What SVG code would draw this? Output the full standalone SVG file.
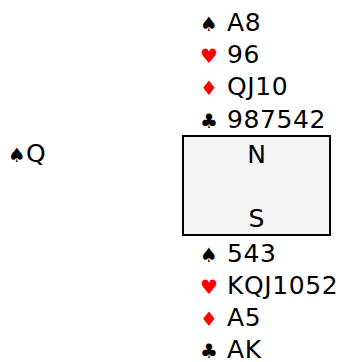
<svg xmlns="http://www.w3.org/2000/svg" width="346" height="362" viewBox="0 0 346 362">
<style>
text{font-family:"DejaVu Sans",Verdana,sans-serif;font-size:25px;fill:#000}
.c{letter-spacing:0.6px}
.s{font-size:20px;letter-spacing:0}
.r{fill:#f00}
</style>
<rect width="346" height="362" fill="#fff"/>
<g id="north">
<text x="200" y="31"><tspan class="s">♠</tspan></text><text class="c" x="227" y="31">A8</text>
<text x="200" y="63"><tspan class="s r">♥</tspan></text><text class="c" x="227" y="63">96</text>
<text x="200" y="95"><tspan class="s r">♦</tspan></text><text class="c" x="227" y="95">QJ10</text>
<text x="200" y="128"><tspan class="s">♣</tspan></text><text class="c" x="227" y="128">987542</text>
</g>
<g id="west">
<text x="8" y="162"><tspan class="s">♠</tspan>Q</text>
</g>
<g id="table">
<rect x="183" y="136" width="147" height="99" fill="#f5f5f5" stroke="#000" stroke-width="2"/>
<text x="256.5" y="163" text-anchor="middle">N</text>
<text x="256.5" y="227" text-anchor="middle">S</text>
</g>
<g id="south">
<text x="200" y="262"><tspan class="s">♠</tspan></text><text class="c" x="227" y="262">543</text>
<text x="200" y="294"><tspan class="s r">♥</tspan></text><text class="c" x="227" y="294">KQJ1052</text>
<text x="200" y="326"><tspan class="s r">♦</tspan></text><text class="c" x="227" y="326">A5</text>
<text x="200" y="358"><tspan class="s">♣</tspan></text><text class="c" x="227" y="358">AK</text>
</g>
<g id="connectors"/>
</svg>
